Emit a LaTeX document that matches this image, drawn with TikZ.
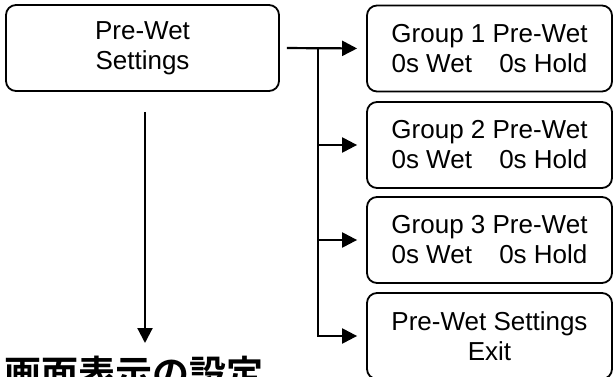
\documentclass[tikz,border=0pt]{standalone}
\usepackage{fontspec}
\setmainfont{Liberation Sans}
\newfontfamily\cjk{Noto Sans CJK JP}[BoldFont={Noto Sans CJK JP Bold}]
\usetikzlibrary{arrows.meta}
\begin{document}
\begin{tikzpicture}[x=1pt,y=-1pt,
  box/.style={draw, line width=1.8pt, rounded corners=10pt, align=center,
    font=\fontsize{26}{30}\selectfont, inner sep=0pt},
  mainbox/.style={box, minimum width=273pt, minimum height=86pt},
  subbox/.style={box, minimum width=245pt, minimum height=86pt},
  conn/.style={line width=2.2pt, -{Triangle[length=15pt,width=15pt]}}]
\useasboundingbox (0,0) rectangle (614,377);
\node[mainbox] (main) at (142.5,48) {Pre-Wet\\Settings};
\node[subbox] (g1) at (489.5,48.5) {Group 1 Pre-Wet\\0s Wet\hspace{1.05em}0s Hold};
\node[subbox] (g2) at (489.5,145) {Group 2 Pre-Wet\\0s Wet\hspace{1.05em}0s Hold};
\node[subbox] (g3) at (489.5,240) {Group 3 Pre-Wet\\0s Wet\hspace{1.05em}0s Hold};
\node[subbox] (g4) at (489.5,336) {Pre-Wet Settings\\Exit};
\coordinate (j) at (318,48);
\coordinate (dtop) at (145,112);
\coordinate (dend) at (145,343);
\draw[conn, shorten <=7pt, shorten >=9pt] (main.east) -- (g1.west);
\draw[conn, shorten >=9pt] (j) |- (g2.west);
\draw[conn, shorten >=9pt] (j) |- (g3.west);
\draw[conn, shorten >=9pt] (j) |- (g4.west);
\draw[conn] (dtop) -- (dend);
\node[anchor=base west, inner sep=0pt, font=\cjk\bfseries\fontsize{37}{40}\selectfont] (title) at (4,387) {画面表示の設定};
\end{tikzpicture}
\end{document}
